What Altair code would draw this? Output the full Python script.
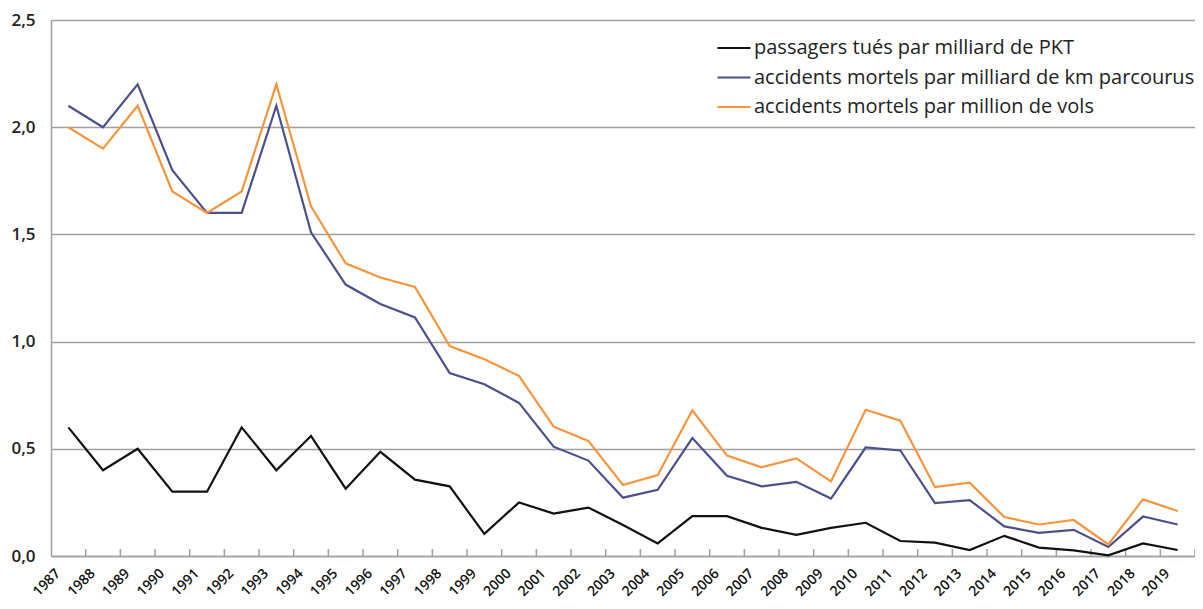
import altair as alt
import pandas as pd

years = list(range(1987, 2020))

tues_pkt = [0.60, 0.40, 0.50, 0.30, 0.30, 0.60, 0.40, 0.56, 0.314, 0.486, 0.356, 0.325, 0.103, 0.25, 0.198, 0.226, 0.145, 0.059, 0.186, 0.186, 0.131, 0.099, 0.131, 0.155, 0.07, 0.062, 0.028, 0.094, 0.039, 0.026, 0.003, 0.059, 0.028]
acc_km = [2.1, 2.0, 2.2, 1.8, 1.6, 1.6, 2.1, 1.51, 1.266, 1.175, 1.113, 0.853, 0.801, 0.714, 0.51, 0.445, 0.272, 0.309, 0.55, 0.374, 0.325, 0.346, 0.268, 0.506, 0.492, 0.247, 0.261, 0.138, 0.108, 0.122, 0.042, 0.184, 0.147]
acc_vols = [2.0, 1.9, 2.1, 1.7, 1.6, 1.7, 2.2, 1.631, 1.365, 1.299, 1.255, 0.979, 0.918, 0.84, 0.603, 0.537, 0.331, 0.377, 0.68, 0.468, 0.414, 0.455, 0.348, 0.682, 0.631, 0.321, 0.342, 0.182, 0.147, 0.168, 0.054, 0.264, 0.21]

series_names = [
    "passagers tués par milliard de PKT",
    "accidents mortels par milliard de km parcourus",
    "accidents mortels par million de vols",
]
series_colors = ["#111111", "#4d5189", "#f7953d"]

rows = []
for name, vals in zip(series_names, [tues_pkt, acc_km, acc_vols]):
    for y, v in zip(years, vals):
        rows.append({"annee": str(y), "serie": name, "valeur": v})
df = pd.DataFrame(rows)
df_years = pd.DataFrame({"annee": [str(y) for y in years]})

FONT = "Open Sans"
W, H = 1144, 536

x_enc = alt.X(
    "annee:N",
    sort=[str(y) for y in years],
    scale=alt.Scale(paddingInner=0, paddingOuter=0),
    axis=alt.Axis(
        title=None,
        labelAngle=-45,
        labelAlign="right",
        labelBaseline="middle",
        labelFontSize=14,
        labelFontWeight=600,
        labelColor="#111111",
        labelPadding=15,
        labelOffset=-10,
        ticks=False,
        domainColor="#a0a0a0",
        domainWidth=1.5,
        grid=False,
    ),
)

lines = alt.Chart(df).mark_line(strokeWidth=2.2).encode(
    x=x_enc,
    y=alt.Y(
        "valeur:Q",
        scale=alt.Scale(domain=[0, 2.5], nice=False),
        axis=alt.Axis(
            title=None,
            values=[0, 0.5, 1.0, 1.5, 2.0, 2.5],
            labelExpr="replace(format(datum.value, '.1f'), '.', ',')",
            labelFontSize=17,
            labelFontWeight=600,
            labelColor="#222222",
            labelPadding=16,
            ticks=False,
            domain=True,
            domainColor="#a0a0a0",
            domainWidth=1.5,
            grid=True,
            gridColor="#a0a0a0",
            gridWidth=1.5,
        ),
    ),
    color=alt.Color(
        "serie:N",
        sort=series_names,
        scale=alt.Scale(domain=series_names, range=series_colors),
        legend=alt.Legend(
            title=None,
            orient="none",
            legendX=665,
            legendY=10,
            symbolType="stroke",
            symbolSize=1089,
            symbolStrokeWidth=2.2,
            labelFontSize=20,
            labelColor="#222222",
            labelOffset=2,
            labelLimit=700,
            rowPadding=1.5,
        ),
    ),
)

ticks = alt.Chart(df_years).mark_rule(color="#a0a0a0", strokeWidth=1.5).encode(
    x=alt.X("annee:N", sort=[str(y) for y in years], bandPosition=1),
    y=alt.value(H - 7),
    y2=alt.value(H),
)

chart = (
    alt.layer(ticks, lines)
    .properties(width=W, height=H, padding={"left": 43, "top": 12, "right": 0, "bottom": 45},
                autosize=alt.AutoSizeParams(type="none"))
    .configure(font=FONT)
    .configure_view(stroke=None)
)

chart.save("out.html", embed_options={"renderer": "svg", "actions": False})
